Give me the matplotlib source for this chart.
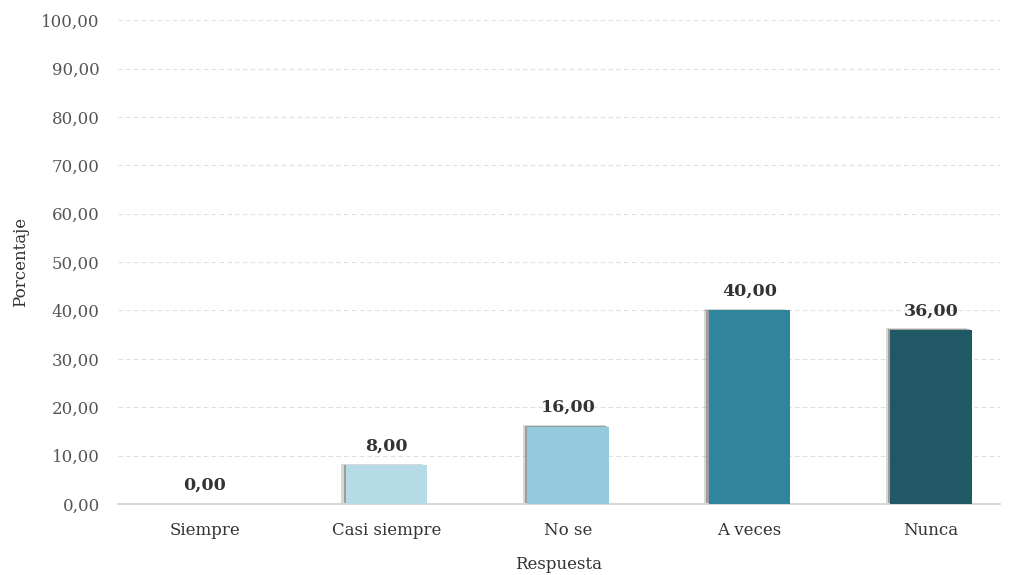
import matplotlib
matplotlib.use('Agg')
import matplotlib.pyplot as plt
import matplotlib.patheffects as pe

# Data
categorias = ['Siempre', 'Casi siempre', 'No se', 'A veces', 'Nunca']
porcentajes = [0.00, 8.00, 16.00, 40.00, 36.00]
colores = ['#d9d9d9', '#b5dbe6', '#94cbdc', '#30849b', '#215866']
yticks = [0, 10, 20, 30, 40, 50, 60, 70, 80, 90, 100]

plt.rcParams['font.family'] = ['DejaVu Serif']

fig = plt.figure(figsize=(10.16, 5.75), dpi=100)
ax = fig.add_axes([0.116, 0.1235, 0.868, 0.8415])

x = range(len(categorias))
bars = ax.bar(x, porcentajes, width=0.45, color=colores, zorder=3)
for b in bars:
    b.set_path_effects([
        pe.SimplePatchShadow(offset=(-3, 1), shadow_rgbFace='#666666', alpha=0.25),
        pe.SimplePatchShadow(offset=(-1.5, 0.5), shadow_rgbFace='#555555', alpha=0.45),
        pe.Normal()])

for xi, v in zip(x, porcentajes):
    ax.text(xi, v + 2.2, f'{v:.2f}'.replace('.', ','), ha='center', va='bottom',
            fontsize=12.5, fontweight='bold', color='#333333')

ax.set_xlim(-0.48, 4.38)
ax.set_ylim(0, 100)
ax.set_yticks(yticks)
ax.set_yticklabels([f'{t:.2f}'.replace('.', ',') for t in yticks], fontsize=12, color='#555555')
ax.set_xticks(list(x))
ax.set_xticklabels(categorias, fontsize=12, color='#333333')
ax.tick_params(length=0)
ax.tick_params(axis='x', pad=13)
ax.tick_params(axis='y', pad=13)

ax.grid(axis='y', linestyle=(0, (4, 3)), color='#e0e0e0', linewidth=0.8, zorder=0)
for s in ['top', 'right', 'left']:
    ax.spines[s].set_visible(False)
ax.spines['bottom'].set_color('#d0d0d0')
ax.spines['bottom'].set_linewidth(1.2)

ax.set_xlabel('Respuesta', fontsize=12, color='#333333', labelpad=12)
ax.set_ylabel('Porcentaje', fontsize=12, color='#333333', labelpad=9)

plt.savefig('out.png', dpi=100)
